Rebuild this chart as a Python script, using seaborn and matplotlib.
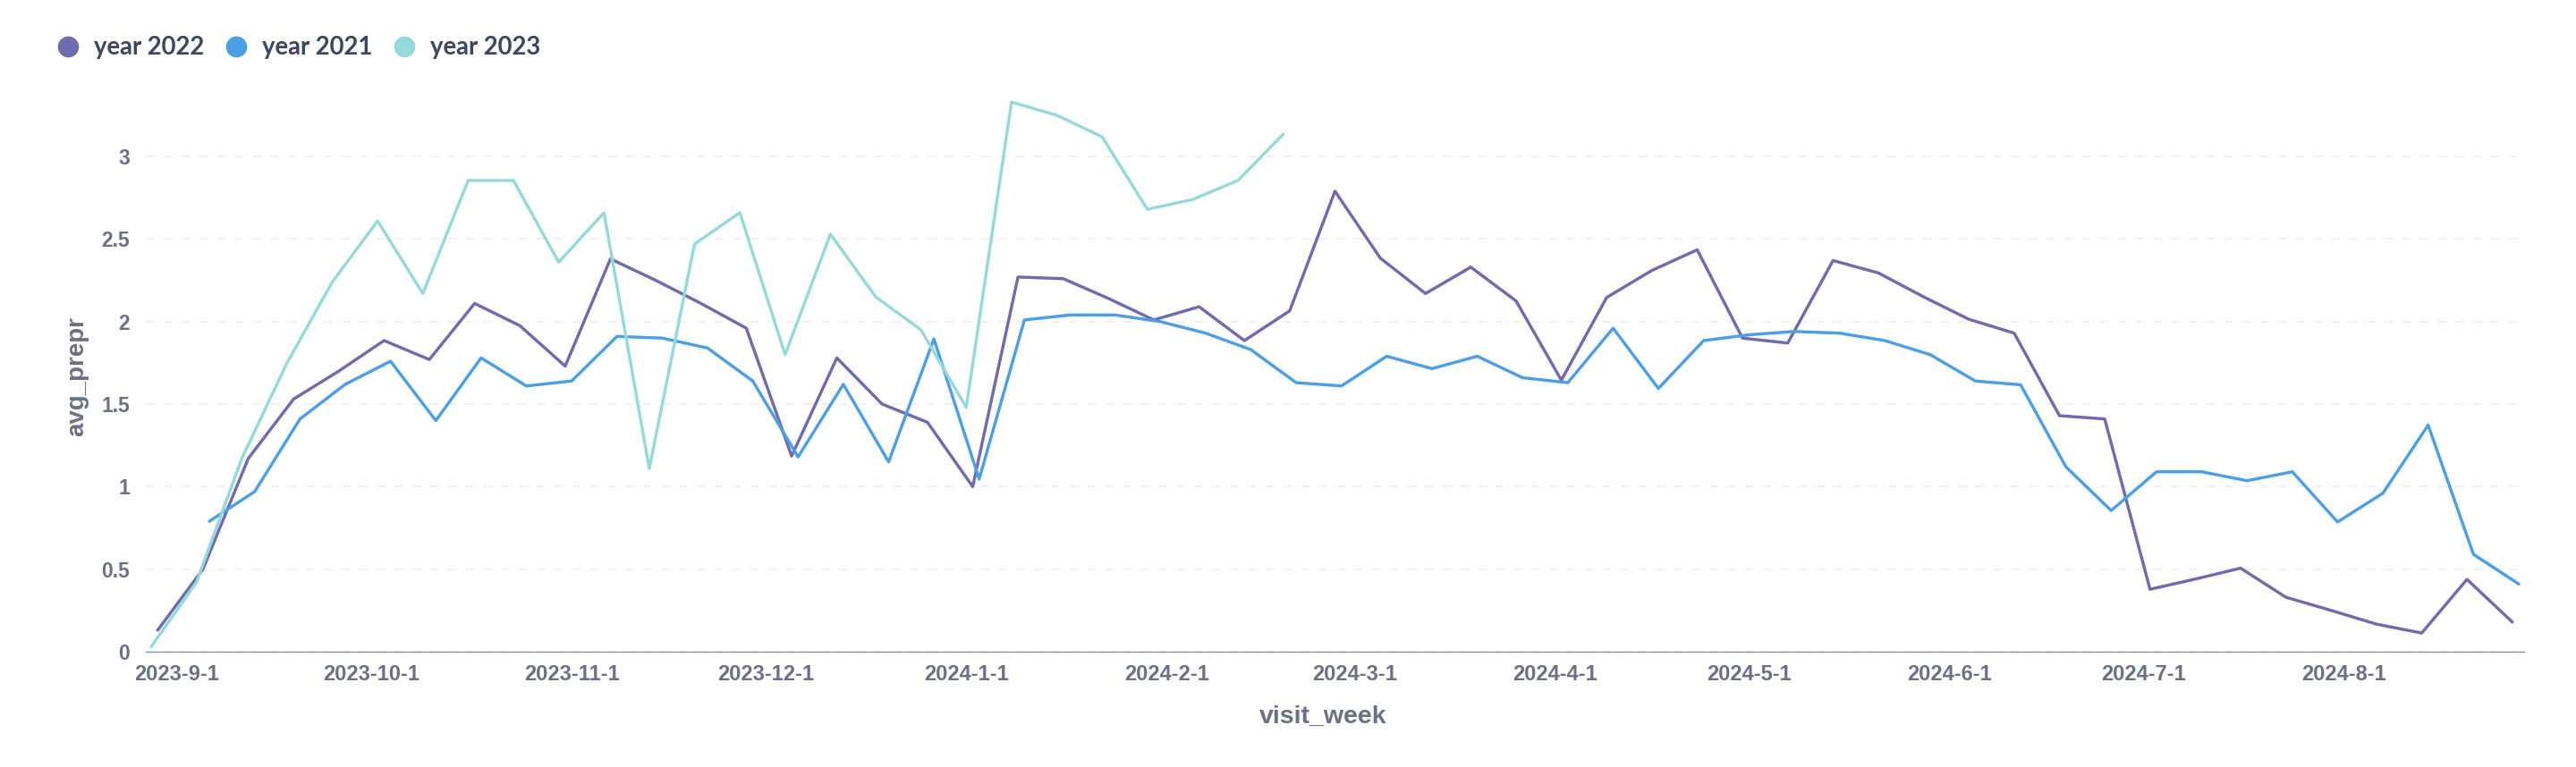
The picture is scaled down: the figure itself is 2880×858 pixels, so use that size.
import matplotlib
matplotlib.use("Agg")
import matplotlib.pyplot as plt
import matplotlib.dates as mdates
from matplotlib.lines import Line2D
from matplotlib.ticker import FuncFormatter
import numpy as np
import pandas as pd
import seaborn as sns

# series in legend order
series_names = ["year 2022", "year 2021", "year 2023"]
series_colors = ["#6f6cae", "#4c9fe4", "#96d9d9"]

# weekly values, first week of each series
start_2022 = "2023-08-29"
values_2022 = [0.13, 0.50, 1.17, 1.53, 1.70, 1.885, 1.77, 2.11, 1.975, 1.73,
               2.38, 2.25, 2.11, 1.96, 1.185, 1.78, 1.50, 1.39, 1.00, 2.27,
               2.26, 2.14, 2.01, 2.09, 1.885, 2.065, 2.79, 2.385, 2.17, 2.33,
               2.125, 1.645, 2.146, 2.31, 2.435, 1.90, 1.87, 2.37, 2.295, 2.15,
               2.014, 1.93, 1.43, 1.41, 0.378, 0.44, 0.506, 0.33, 0.25, 0.167,
               0.113, 0.438, 0.18]

start_2021 = "2023-09-06"
values_2021 = [0.79, 0.97, 1.41, 1.62, 1.76, 1.40, 1.78, 1.61, 1.64, 1.91,
               1.90, 1.84, 1.64, 1.18, 1.62, 1.15, 1.895, 1.046, 2.01, 2.04,
               2.04, 2.00, 1.93, 1.83, 1.63, 1.61, 1.79, 1.715, 1.79, 1.66,
               1.63, 1.96, 1.595, 1.885, 1.92, 1.94, 1.93, 1.885, 1.80, 1.64,
               1.617, 1.12, 0.855, 1.09, 1.09, 1.036, 1.09, 0.786, 0.96, 1.373,
               0.59, 0.41]

start_2023 = "2023-08-28"
values_2023 = [0.03, 0.42, 1.17, 1.75, 2.24, 2.61, 2.17, 2.855, 2.855, 2.36,
               2.66, 1.11, 2.47, 2.66, 1.80, 2.53, 2.15, 1.95, 1.48, 3.33,
               3.25, 3.12, 2.68, 2.74, 2.855, 3.135]

y_ticks = [0, 0.5, 1, 1.5, 2, 2.5, 3]

frames = []
for name, start, vals in [("year 2022", start_2022, values_2022),
                          ("year 2021", start_2021, values_2021),
                          ("year 2023", start_2023, values_2023)]:
    frames.append(pd.DataFrame({
        "visit_week": pd.date_range(start, periods=len(vals), freq="7D"),
        "avg_prepr": vals,
        "series": name,
    }))
df = pd.concat(frames, ignore_index=True)

sns.set_theme(style="white")
plt.rcParams['font.family'] = ['Liberation Sans', 'DejaVu Sans']

tick_color = "#6b7185"
axis_color = "#8e92a8"
legend_color = "#3d4760"

fig = plt.figure(figsize=(28.8, 8.58), dpi=100)
ax = fig.add_axes([0.0566, 0.15035, 0.92326, 0.7187])

sns.lineplot(data=df, x="visit_week", y="avg_prepr", hue="series",
             hue_order=series_names, palette=dict(zip(series_names, series_colors)),
             linewidth=2.45, errorbar=None, legend=False, ax=ax)

# x axis: a little padding around the first / last week
pad = pd.Timedelta(hours=20)
x_lo = df["visit_week"].min() - pad
x_hi = df["visit_week"].max() + pad
ax.set_xlim(x_lo, x_hi)
ax.set_ylim(0, 3.34)

ax.xaxis.set_major_locator(mdates.MonthLocator(bymonthday=1))
def fmt_date(v, pos):
    d = mdates.num2date(v)
    return f"{d.year}-{d.month}-{d.day}"
ax.xaxis.set_major_formatter(FuncFormatter(fmt_date))
ax.set_xticks([mdates.date2num(x_lo), mdates.date2num(x_hi)], minor=True)

ax.set_yticks(y_ticks)
ax.yaxis.set_major_formatter(FuncFormatter(lambda v, p: f"{v:g}"))

ax.tick_params(axis="x", which="major", length=0, pad=10, labelsize=17,
               labelcolor=tick_color)
ax.tick_params(axis="x", which="minor", length=8, width=1.0, color=axis_color,
               direction="out")
ax.tick_params(axis="y", length=0, pad=13, labelsize=16.5, labelcolor=tick_color)
for lbl in ax.get_xticklabels() + ax.get_yticklabels():
    lbl.set_fontweight("bold")

ax.grid(axis="y", color="#eeeeef", linestyle=(0, (6.5, 6.5)), linewidth=1.1)
ax.grid(axis="x", visible=False)
sns.despine(ax=ax, left=True)
ax.spines["bottom"].set_color(axis_color)
ax.spines["bottom"].set_linewidth(1.0)

ax.set_xlabel("visit_week", fontsize=20.5, fontweight="bold", color=tick_color)
ax.set_ylabel("avg_prepr", fontsize=20, fontweight="bold", color=tick_color)
ax.xaxis.set_label_coords(0.495, -0.097)
ax.yaxis.set_label_coords(-0.0241, 0.5)

handles = [Line2D([], [], marker="o", linestyle="none", markersize=16,
                  markerfacecolor=c, markeredgecolor=c) for c in series_colors]
leg = fig.legend(handles, series_names, loc="center left",
                 bbox_to_anchor=(0.0216, 0.938), ncol=3, frameon=False,
                 handlelength=1.0, handletextpad=0.55, columnspacing=0.8,
                 borderpad=0, borderaxespad=0,
                 prop=dict(family=["Lato", "DejaVu Sans"], weight="bold", size=19.8))
for t in leg.get_texts():
    t.set_color(legend_color)

fig.savefig("out.png", dpi=100)
